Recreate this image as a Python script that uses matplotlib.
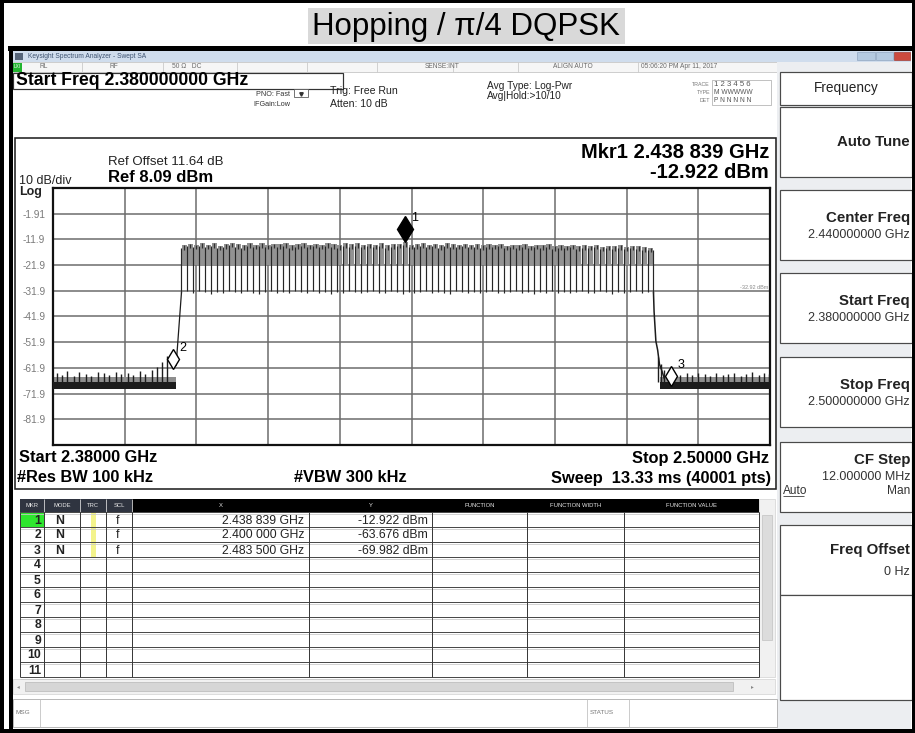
import matplotlib.pyplot as plt
from matplotlib.patches import Rectangle
from matplotlib.transforms import offset_copy

plt.rcParams['font.family'] = ['Liberation Sans', 'DejaVu Sans']

# --- settings and readings from the analyzer screen ---
title = 'Hopping / π/4 DQPSK'
start_mhz = 2380.0
stop_mhz = 2500.0
ref_level_dbm = 8.09
ref_offset_db = 11.64
db_per_div = 10
rbw_khz = 100
vbw_khz = 300
sweep_ms = 13.33
sweep_pts = 40001
display_line_dbm = -32.92
ytick_labels = ['-1.91', '-11.9', '-21.9', '-31.9', '-41.9', '-51.9', '-61.9', '-71.9', '-81.9']

# hopping channels (1 MHz apart), level of each channel top and of the dips between them
channel_mhz = list(range(2402, 2481))
peak_dbm = [-14.2, -13.6, -14.0, -13.4, -13.9, -13.5, -14.3, -13.7, -13.2, -13.8,
            -14.1, -13.5, -13.9, -13.3, -14.0, -13.6, -13.8, -13.4, -14.2, -13.7,
            -13.5, -14.0, -13.6, -13.9, -13.3, -13.8, -14.1, -13.5, -13.7, -13.4,
            -14.0, -13.6, -13.9, -13.5, -14.2, -13.8, -13.6, -12.9, -14.0, -13.7,
            -13.4, -13.9, -13.6, -14.1, -13.5, -13.8, -14.0, -13.6, -13.9, -13.7,
            -14.2, -13.8, -14.0, -13.6, -14.3, -13.9, -14.1, -13.7, -14.4, -14.0,
            -14.2, -13.8, -14.5, -14.1, -14.3, -13.9, -14.6, -14.2, -14.4, -14.0,
            -14.7, -14.3, -14.5, -14.1, -14.8, -14.4, -14.6, -14.9, -15.2]
edge_dbm = [-32.6, -32.1, -32.9, -31.8, -32.4, -33.0, -32.2, -32.7, -31.9, -32.5,
            -32.8, -32.0, -32.6, -33.1, -32.3, -31.9, -32.7, -32.4, -32.9, -32.1,
            -32.5, -32.8, -31.8, -32.6, -32.2, -33.0, -32.4, -32.7, -32.0, -32.5,
            -32.9, -32.3, -31.9, -32.6, -32.8, -32.1, -32.4, -33.0, -32.2, -32.7,
            -32.5, -31.9, -32.8, -32.3, -32.6, -33.1, -32.0, -32.4, -32.9, -32.2,
            -32.7, -32.5, -31.8, -32.6, -32.9, -32.3, -32.1, -32.8, -32.4, -33.0,
            -32.2, -32.6, -32.0, -32.7, -32.5, -32.9, -32.3, -31.9, -32.6, -32.8,
            -32.1, -32.4, -33.0, -32.2, -32.7, -32.5, -32.0, -32.8, -32.4, -32.6]
shoulder_dbm = -22.0

# band edges
left_rise_mhz = [2399.7, 2400.1, 2400.4, 2400.6, 2401.5]
left_rise_dbm = [-60.5, -56.0, -58.5, -61.0, -32.6]
right_fall_mhz = [2480.5, 2480.6, 2480.9, 2481.2, 2481.5, 2481.9, 2482.3]
right_fall_dbm = [-32.6, -40.0, -51.5, -55.0, -60.5, -63.0, -66.0]

# noise floor outside the band
floor_top_dbm = -67.4
floor_bottom_dbm = -70.2
left_floor_mhz = [2380.0, 2400.6]
right_floor_mhz = [2481.6, 2500.0]
left_spur_mhz = [2380.6, 2381.5, 2382.4, 2383.5, 2384.4, 2385.5, 2386.4, 2387.5, 2388.5, 2389.4,
                 2390.5, 2391.4, 2392.5, 2393.4, 2394.5, 2395.4, 2396.5, 2397.4, 2398.3, 2399.0]
left_spur_dbm = [-63.8, -64.6, -63.2, -64.9, -63.6, -64.2, -65.1, -63.5, -64.0, -64.7,
                 -63.4, -64.4, -63.9, -64.8, -63.3, -64.1, -62.6, -61.4, -59.6, -57.4]
right_spur_mhz = [2481.3, 2481.8, 2482.3, 2483.1, 2484.0, 2485.0, 2486.1, 2487.0, 2488.0, 2489.1,
                  2490.0, 2491.0, 2492.1, 2493.0, 2494.0, 2495.1, 2496.0, 2497.0, 2498.1, 2499.0, 2499.8]
right_spur_dbm = [-57.6, -60.5, -62.8, -64.0, -63.6, -64.5, -63.9, -64.8, -63.7, -64.3,
                  -65.0, -63.8, -64.6, -64.1, -63.9, -64.9, -64.2, -63.6, -64.7, -64.0, -64.4]

# marker table
marker_ids = ['1', '2', '3']
marker_mode = ['N', 'N', 'N']
marker_scl = ['f', 'f', 'f']
marker_mhz = [2438.839, 2400.000, 2483.500]
marker_dbm = [-12.922, -63.676, -69.982]
table_headers = ['MKR', 'MODE', 'TRC', 'SCL', 'X', 'Y', 'FUNCTION', 'FUNCTION WIDTH', 'FUNCTION VALUE']
table_rows = 11

# soft keys on the right
softkeys = [('Auto Tune', ''), ('Center Freq', '2.440000000 GHz'), ('Start Freq', '2.380000000 GHz'),
            ('Stop Freq', '2.500000000 GHz')]


def ghz_text(mhz, digits):
    return f'{mhz / 1000:.{digits}f}'


def mkr_x_text(mhz):
    s = f'{mhz / 1000:.6f}'
    return s[:5] + ' ' + s[5:] + ' GHz'


# --- figure: pixel canvas for the screen chrome ---
W, H = 915, 733
PX = 0.72
fig = plt.figure(figsize=(W / 100, H / 100), dpi=100)
ui = fig.add_axes([0, 0, 1, 1])
ui.set_xlim(0, W)
ui.set_ylim(H, 0)
ui.axis('off')


def box(x0, y0, x1, y1, fc='white', ec='none', lw=1.0, z=1):
    ui.add_patch(Rectangle((x0, y0), x1 - x0, y1 - y0, facecolor=fc, edgecolor=ec,
                           linewidth=lw * PX, zorder=z))


def line(xs, ys, color='black', lw=1.0, z=2):
    ui.plot(xs, ys, color=color, lw=lw * PX, zorder=z, solid_capstyle='butt')


def txt(x, y, s, size, ha='left', va='center', weight='normal', color='black', z=5):
    ui.text(x, y, s, fontsize=size, ha=ha, va=va, fontweight=weight, color=color, zorder=z)


# outer frame and title
box(0, 0, W, H, fc='white', z=0)
box(308, 8, 625, 44, fc='#d9d9d9')
txt(466, 27, title, 22.5, ha='center')
box(0, 0, W, 3, fc='black', z=8)
box(0, 0, 3.5, H, fc='black', z=8)
box(911.5, 0, W, H, fc='black', z=8)
box(0, 729, W, H, fc='black', z=8)
box(8, 46, 911.5, 51, fc='black', z=8)
box(9, 51, 12.5, 729, fc='black', z=8)

# window title bar and status line
box(12.5, 51, 911, 62, fc='#d0dded')
box(15, 53, 23, 60, fc='#56657a', z=2)
txt(28, 56.5, 'Keysight Spectrum Analyzer - Swept SA', 4.8, color='#3d5270')
box(857, 52, 875, 60, fc='#b5cae0', ec='#8aa0bb', lw=0.6, z=2)
box(876, 52, 893, 60, fc='#b5cae0', ec='#8aa0bb', lw=0.6, z=2)
box(894, 52, 910, 60, fc='#cc4a3e', ec='#9a3027', lw=0.6, z=2)
box(12.5, 62, 777, 72, fc='#f6f6f6', ec='#c4c4c4', lw=0.8)
box(13, 62.5, 22, 71.5, fc='#22b52f', z=2)
txt(17.5, 67, 'LXI', 3.3, ha='center', color='white')
for sx in [82, 163, 237, 307, 377, 453, 518, 638]:
    line([sx, sx], [62, 72], color='#c8c8c8', lw=0.8)
for sx, s in [(40, 'RL'), (110, 'RF'), (172, '50 Ω   DC'), (425, 'SENSE:INT'),
              (553, 'ALIGN AUTO'), (641, '05:06:20 PM Apr 11, 2017')]:
    txt(sx, 67, s, 4.8, color='#6a6a6a')

# setup line
box(13, 72.5, 343, 88.5, fc='white', ec='#333333', lw=1.2)
txt(16, 80.5, f'Start Freq {ghz_text(start_mhz, 9)} GHz', 12.7, weight='bold')
txt(290, 94, 'PNO: Fast', 5.2, ha='right', color='#333333')
txt(290, 104, 'IFGain:Low', 5.2, ha='right', color='#333333')
box(294, 89, 308, 97, fc='white', ec='#555555', lw=0.8, z=2)
ui.plot([301], [93.5], marker='v', ms=2.5, color='#333333', zorder=3)
txt(330, 91, 'Trig: Free Run', 7.6, color='#222222')
txt(330, 104, 'Atten: 10 dB', 7.6, color='#222222')
txt(487, 86, 'Avg Type: Log-Pwr', 7.3, color='#222222')
txt(487, 96, 'Avg|Hold:>10/10', 7.3, color='#222222')
txt(710, 85, 'TRACE', 3.8, ha='right', color='#777777')
txt(710, 93, 'TYPE', 3.8, ha='right', color='#777777')
txt(710, 101, 'DET', 3.8, ha='right', color='#777777')
box(712, 80, 771, 105, fc='white', ec='#9a9a9a', lw=0.6)
txt(714, 85, '1 2 3 4 5 6', 5.6, color='#555555')
txt(714, 93, 'M WWWWW', 4.8, color='#555555')
txt(714, 101, 'P N N N N N', 4.8, color='#555555')

# right soft key panel
box(777, 62, 911, 729, fc='#eceef1')
box(780, 72, 912, 105, fc='white', ec='#4a4a4a', lw=1.2, z=2)
txt(846, 88, 'Frequency', 9.8, ha='center', color='#222222')
key_tops = [107, 190, 273, 357]
for top, (name, value) in zip(key_tops, softkeys):
    box(780, top, 912, top + 70, fc='white', ec='#4a4a4a', lw=1.2, z=2)
    if value:
        txt(910, top + 28, name, 10.8, ha='right', weight='bold', color='#222222')
        txt(910, top + 45, value, 9, ha='right', color='#333333')
    else:
        txt(910, top + 35, name, 10.8, ha='right', weight='bold', color='#222222')
box(780, 442, 912, 512, fc='white', ec='#4a4a4a', lw=1.2, z=2)
txt(910, 460, 'CF Step', 10.8, ha='right', weight='bold', color='#222222')
txt(910, 477, '12.000000 MHz', 9, ha='right', color='#333333')
txt(783, 491, 'Auto', 8.6, color='#333333')
line([783, 804], [496, 496], color='#333333', lw=0.8, z=5)
txt(910, 491, 'Man', 8.6, ha='right', color='#333333')
box(780, 525, 912, 595, fc='white', ec='#4a4a4a', lw=1.2, z=2)
txt(910, 550, 'Freq Offset', 10.8, ha='right', weight='bold', color='#222222')
txt(910, 572, '0 Hz', 9, ha='right', color='#333333')
box(780, 595, 912, 700, fc='white', ec='#4a4a4a', lw=1.2, z=2)

# graph panel
box(15, 138, 776, 489, fc='white', ec='#222222', lw=1.6)
txt(108, 162, f'Ref Offset {ref_offset_db:.2f} dB', 9.5, color='#222222')
txt(108, 177, f'Ref {ref_level_dbm:.2f} dBm', 12, weight='bold')
txt(19, 181, f'{db_per_div} dB/div', 9, color='#222222')
txt(19, 192, 'Log', 9, weight='bold', color='#222222')
txt(769, 152, f'Mkr{marker_ids[0]} {mkr_x_text(marker_mhz[0])}', 14.5, ha='right', weight='bold')
txt(769, 173, f'{marker_dbm[0]:.3f} dBm', 14.5, ha='right', weight='bold')
txt(19, 458, f'Start {ghz_text(start_mhz, 5)} GHz', 11.8, weight='bold')
txt(769, 458, f'Stop {ghz_text(stop_mhz, 5)} GHz', 11.8, ha='right', weight='bold')
txt(17, 478, f'#Res BW {rbw_khz} kHz', 11.8, weight='bold')
txt(350, 478, f'#VBW {vbw_khz} kHz', 11.8, ha='center', weight='bold')
txt(771, 478, f'Sweep  {sweep_ms:.2f} ms ({sweep_pts} pts)', 11.8, ha='right', weight='bold')

# marker table
col_x = [20, 44, 80, 106, 132, 309, 432, 527, 624, 759]
head_top, head_bot = 499, 512
row_h = 15.0
box(20, head_top, 759, head_bot, fc='black', z=2)
box(20, head_top, 132, head_bot, fc='#2f3440', z=2)
for i, name in enumerate(table_headers):
    x0, x1 = col_x[i], col_x[i + 1]
    if 0 < i < 5:
        line([x0, x0], [head_top, head_bot], color='#dddddd', lw=0.8, z=3)
    txt((x0 + x1) / 2, (head_top + head_bot) / 2, name, 4.2, ha='center', color='#e8e8e8', z=4)
table_bot = head_bot + row_h * table_rows
box(20, head_bot, 759, table_bot, fc='white', z=1)
box(20, head_bot, 44, head_bot + row_h, fc='#2ee62e', z=2)
box(91, head_bot, 96, head_bot + row_h * len(marker_ids), fc='#f3f38c', z=2)
for r in range(table_rows + 1):
    y = head_bot + r * row_h
    line([20, 759], [y, y], color='#4a4a4a', lw=1.0, z=3)
    line([20, 759], [y + 1.5, y + 1.5], color='#c9c9c9', lw=0.8, z=3)
for cx in col_x:
    line([cx, cx], [head_bot, table_bot], color='#3a3a3a', lw=1.0, z=3)
for r in range(table_rows):
    yc = head_bot + r * row_h + row_h / 2 + 1
    txt(41, yc, str(r + 1), 8.8, ha='right', weight='bold', color='#222222', z=4)
for r, mid in enumerate(marker_ids):
    yc = head_bot + r * row_h + row_h / 2 + 1
    txt(60, yc, marker_mode[r], 8.8, ha='center', weight='bold', color='#222222', z=4)
    txt(118, yc, marker_scl[r], 8.8, ha='center', color='#222222', z=4)
    txt(304, yc, mkr_x_text(marker_mhz[r]), 8.8, ha='right', color='#222222', z=4)
    txt(428, yc, f'{marker_dbm[r]:.3f} dBm', 8.8, ha='right', color='#222222', z=4)
# scrollbars and message line
box(759, head_top, 775, table_bot, fc='#f1f1f1', ec='#cccccc', lw=0.6)
box(762, 515, 772, 640, fc='#dcdcdc', ec='#bcbcbc', lw=0.6, z=2)
box(13, table_bot + 2, 775, table_bot + 17, fc='#f1f1f1', ec='#cccccc', lw=0.6)
box(25, table_bot + 5, 733, table_bot + 14, fc='#d6d6d6', ec='#b0b0b0', lw=0.6, z=2)
txt(18, table_bot + 9.5, '◂', 4, ha='center', color='#888888')
txt(752, table_bot + 9.5, '▸', 4, ha='center', color='#888888')
box(13, 699, 777, 727, fc='white', ec='#a8a8a8', lw=0.8)
for sx in [40, 587, 629]:
    line([sx, sx], [699, 727], color='#c0c0c0', lw=0.8)
txt(16, 713, 'MSG', 4.6, color='#777777')
txt(590, 713, 'STATUS', 4.6, color='#777777')

# --- the spectrum trace ---
ax = fig.add_axes([53 / W, 1 - 445 / H, 717 / W, 257 / H])
ax.set_zorder(3)
ax.set_xlim(start_mhz, stop_mhz)
bottom_dbm = ref_level_dbm - 10 * db_per_div
ax.set_ylim(bottom_dbm, ref_level_dbm)
ax.set_xticks([start_mhz + k * (stop_mhz - start_mhz) / 10 for k in range(11)])
ax.set_yticks([bottom_dbm + k * db_per_div for k in range(11)])
ax.set_xticklabels([])
ax.set_yticklabels([''] + ytick_labels[::-1] + [''])
ax.tick_params(length=0, labelsize=7.3, labelcolor='#7a7a7a', pad=22)
for lbl in ax.get_yticklabels():
    lbl.set_horizontalalignment('left')
ax.grid(True, color='#6c6c6c', lw=1.1)
ax.set_axisbelow(True)
for sp in ax.spines.values():
    sp.set_linewidth(1.6)
    sp.set_color('#111111')

# noise floor
for span in (left_floor_mhz, right_floor_mhz):
    ax.fill_between(span, floor_bottom_dbm, floor_top_dbm + 1.8, color='#8e8e8e', lw=0, zorder=2)
    ax.fill_between(span, floor_bottom_dbm, floor_top_dbm, color='#1c1c1c', lw=0, zorder=3)
ax.vlines(left_spur_mhz, floor_top_dbm, left_spur_dbm, color='#1c1c1c', lw=1.0, zorder=3)
ax.vlines(right_spur_mhz, floor_top_dbm, right_spur_dbm, color='#1c1c1c', lw=1.0, zorder=3)
ax.plot(left_rise_mhz, left_rise_dbm, color='#1c1c1c', lw=0.9, zorder=3)
ax.plot(right_fall_mhz, right_fall_dbm, color='#1c1c1c', lw=1.1, zorder=3)

# hopping comb
ax.bar(channel_mhz, [p - shoulder_dbm for p in peak_dbm], bottom=shoulder_dbm, width=0.9,
       color='#929292', lw=0, zorder=2)
edges_mhz = [c - 0.5 for c in channel_mhz] + [channel_mhz[-1] + 0.5]
edge_tops = peak_dbm + [peak_dbm[-1]]
ax.vlines(edges_mhz, edge_dbm, [t - 1.0 for t in edge_tops], color='#262626', lw=0.85, zorder=3)
ax.vlines(channel_mhz, [p - 1.8 for p in peak_dbm], peak_dbm, color='#303030', lw=0.9, zorder=3)
ax.text(stop_mhz - 0.3, display_line_dbm + 1.2, f'{display_line_dbm:.2f} dBm', fontsize=4,
        color='#8a8a8a', ha='right', va='bottom', zorder=4)

# markers
for i, mid in enumerate(marker_ids):
    filled = i == 0
    tr = offset_copy(ax.transData, fig=fig, x=0, y=13, units='dots')
    ax.plot(marker_mhz[i], marker_dbm[i], marker='d', ms=13 if filled else 10,
            mfc='black' if filled else 'white', mec='black', mew=1.0, transform=tr, zorder=6)
    ax.annotate(mid, (marker_mhz[i], marker_dbm[i]), xytext=(10, 24), textcoords='offset pixels',
                fontsize=9, ha='center', va='center', zorder=6)

fig.savefig('out.png', dpi=100)
